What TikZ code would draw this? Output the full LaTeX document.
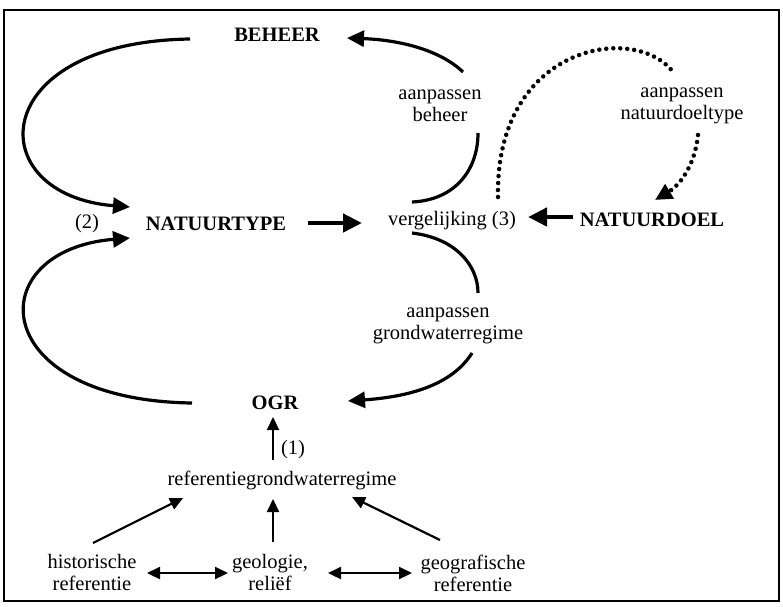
\documentclass[tikz,border=0pt]{standalone}
\usepackage{fontspec}
\setmainfont{Liberation Serif}
\usetikzlibrary{arrows.meta}
\begin{document}
\begin{tikzpicture}[x=1pt,y=-1pt,
  lbl/.style={font=\fontsize{20.5}{22}\selectfont, align=center, inner sep=0pt},
  blbl/.style={font=\fontsize{20.5}{22}\selectfont\bfseries, align=center, inner sep=0pt},
  curveline/.style={line width=3.2pt},
  curvearrow/.style={line width=3.2pt, -{Triangle[length=17pt,width=16pt]}},
  heavyarrow/.style={line width=4.5pt, -{Triangle[length=19pt,width=18pt]}},
  smallarrow/.style={line width=2.2pt, -{Triangle[length=13pt,width=12pt]}},
  duoarrow/.style={line width=2.2pt, {Triangle[length=13pt,width=12pt]}-{Triangle[length=13pt,width=12pt]}},
  dotline/.style={line width=4.5pt, line cap=round, dash pattern=on 0pt off 7pt},
]
\useasboundingbox (0,0) rectangle (783,606);
\draw[line width=1.5pt] (4,10) rectangle (779,601);

% text nodes
\node[blbl] (beheer) at (277,35) {BEHEER};
\node[blbl] (natuurtype) at (216,224) {NATUURTYPE};
\node[lbl] (two) at (87,224) {(2)};
\node[lbl] (verg) at (452,221) {vergelijking (3)};
\node[blbl] (natuurdoel) at (652,220) {NATUURDOEL};
\node[lbl] (apbeheer) at (440,106) {aanpassen\\beheer};
\node[lbl] (apndt) at (682,106) {aanpassen\\natuurdoeltype};
\node[lbl] (apgwr) at (448,326) {aanpassen\\grondwaterregime};
\node[blbl] (ogr) at (275,403) {OGR};
\node[lbl] (one) at (293,450) {(1)};
\node[lbl] (ref) at (282,480) {referentiegrondwaterregime};
\node[lbl] (hist) at (92,572) {historische\\referentie};
\node[lbl] (geo) at (270,572) {geologie,\\reliëf};
\node[lbl] (geogr) at (473,573) {geografische\\referentie};

% connector end points
\coordinate (bhL) at (190,39);
\coordinate (ntTop) at (130,207);
\coordinate (ntBot) at (130,238);
\coordinate (ogL) at (192,403);
\coordinate (ntE) at (308,223);
\coordinate (vgW) at (362,223);
\coordinate (ndW) at (573,217);
\coordinate (vgE) at (528,217);
\coordinate (vgNE) at (412,202);
\coordinate (abS) at (478,133);
\coordinate (abN) at (463,72);
\coordinate (bhR) at (347,38);
\coordinate (vgSE) at (412,233);
\coordinate (agN) at (478,293);
\coordinate (agS) at (472,353);
\coordinate (ogR) at (348,401);
\coordinate (vgDot) at (498,197);
\coordinate (anN) at (673,72);
\coordinate (anS) at (698,135);
\coordinate (ndN) at (655,200);

% loops on the left
\draw[curvearrow] (bhL) .. controls (-15,42) and (-20,195) .. (ntTop);
\draw[curvearrow] (ogL) .. controls (-15,400) and (-20,250) .. (ntBot);

% horizontal heavy arrows
\draw[heavyarrow] (ntE) -- (vgW);
\draw[heavyarrow] (ndW) -- (vgE);

% aanpassen beheer
\draw[curveline] (vgNE) .. controls (455,200) and (478,170) .. (abS);
\draw[curvearrow] (abN) .. controls (440,50) and (400,40) .. (bhR);

% aanpassen grondwaterregime
\draw[curveline] (vgSE) .. controls (455,238) and (478,265) .. (agN);
\draw[curvearrow] (agS) .. controls (455,380) and (420,396) .. (ogR);

% dotted: aanpassen natuurdoeltype
\draw[dotline] (vgDot) .. controls (495,45) and (635,22) .. (anN);
\draw[dotline, -{Triangle[length=17pt,width=16pt]}] (anS) .. controls (695,165) and (680,185) .. (ndN);

% bottom part
\draw[smallarrow] (273,460) -- (273,417);
\draw[smallarrow] (93,543) -- (183,498);
\draw[smallarrow] (273,542) -- (273,499);
\draw[smallarrow] (440,540) -- (352,497);
\draw[duoarrow] (147,573) -- (228,573);
\draw[duoarrow] (328,573) -- (412,573);
\end{tikzpicture}
\end{document}
